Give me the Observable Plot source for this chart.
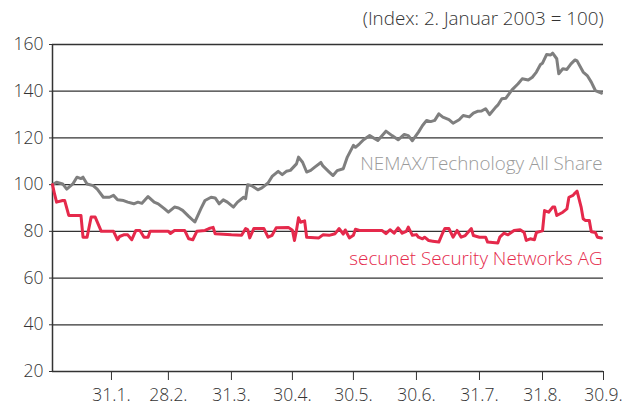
<!DOCTYPE html>
<html><head><meta charset="utf-8">
<script src="https://cdn.jsdelivr.net/npm/d3@7"></script>
<script src="https://cdn.jsdelivr.net/npm/@observablehq/plot@0.6"></script>
<style>
html,body{margin:0;padding:0;background:#fff;}
</style>
</head><body><div id="chart"></div>
<script>
const nemaxDates = ["2003-01-02","2003-01-04","2003-01-07","2003-01-09","2003-01-12","2003-01-14","2003-01-16","2003-01-17","2003-01-19","2003-01-22","2003-01-24","2003-01-27","2003-01-30",
"2003-02-01","2003-02-03","2003-02-06","2003-02-08","2003-02-11","2003-02-13","2003-02-15","2003-02-18","2003-02-21","2003-02-23","2003-02-26","2003-02-28",
"2003-03-03","2003-03-05","2003-03-07","2003-03-10","2003-03-13","2003-03-16","2003-03-18","2003-03-21","2003-03-23","2003-03-25","2003-03-27","2003-03-29",
"2003-04-01","2003-04-03","2003-04-06","2003-04-07","2003-04-08","2003-04-10","2003-04-13","2003-04-15","2003-04-18","2003-04-20","2003-04-23","2003-04-25","2003-04-27","2003-04-29",
"2003-05-02","2003-05-03","2003-05-05","2003-05-07","2003-05-09","2003-05-11","2003-05-14","2003-05-15","2003-05-18","2003-05-20","2003-05-22","2003-05-25","2003-05-27","2003-05-30","2003-05-31",
"2003-06-02","2003-06-04","2003-06-07","2003-06-11","2003-06-15","2003-06-18","2003-06-21","2003-06-24","2003-06-26","2003-06-28",
"2003-07-01","2003-07-03","2003-07-05","2003-07-07","2003-07-09","2003-07-11","2003-07-13","2003-07-16","2003-07-18","2003-07-21","2003-07-23","2003-07-26","2003-07-28","2003-07-30",
"2003-08-01","2003-08-03","2003-08-05","2003-08-08","2003-08-09","2003-08-11","2003-08-13","2003-08-14","2003-08-16","2003-08-19","2003-08-21","2003-08-24","2003-08-26","2003-08-28","2003-08-30","2003-08-31",
"2003-09-02","2003-09-04","2003-09-05","2003-09-07","2003-09-08","2003-09-10","2003-09-12","2003-09-14","2003-09-16","2003-09-17","2003-09-20","2003-09-22","2003-09-24","2003-09-26","2003-09-29"];
const nemaxValues = [100,101,100.3,98.1,100.3,103.2,102.6,103.2,100.3,99.6,98.1,94.6,94.6,
95.4,93.5,93.2,92.5,91.8,92.5,92,94.9,92.5,91.8,89.7,88.2,
90.4,90,89,86.4,84,89.7,93.2,94.6,94.3,91.8,93.5,92.5,
90.4,92.5,94.6,94,100,99.5,97.8,98.6,100.7,103.5,105.7,104.3,105.7,106.1,
108.9,111.8,109.6,105.4,106.1,107.5,109.5,108,105.5,103.9,106,106.8,111.8,116.8,116,
117.5,119.2,121,118.9,122.9,121,119.2,121.5,121,118.8,
122.5,125.3,127.5,127,127.5,130.3,128.9,127.8,126.3,127.8,129.6,129,130.6,131.4,
131.5,132.5,130,133.2,134,136.8,137,138.2,140.6,143.2,145.3,144.8,146,148.2,151.4,152,
155.7,155.5,156.3,153.9,147.5,149.6,149.3,151.7,153.4,153,148.2,146.7,143.9,140.3,139.2];

const secunetDates = ["2003-01-02","2003-01-03","2003-01-04","2003-01-07","2003-01-08","2003-01-10","2003-01-16","2003-01-17","2003-01-19","2003-01-21","2003-01-23","2003-01-26",
"2003-02-01","2003-02-03","2003-02-04","2003-02-06","2003-02-08","2003-02-10","2003-02-12","2003-02-14","2003-02-16","2003-02-18","2003-02-19","2003-02-28",
"2003-03-01","2003-03-03","2003-03-08","2003-03-10","2003-03-12","2003-03-14","2003-03-18","2003-03-20","2003-03-22","2003-03-23","2003-03-31",
"2003-04-05","2003-04-07","2003-04-08","2003-04-09","2003-04-11","2003-04-16","2003-04-18","2003-04-20","2003-04-22","2003-04-28","2003-04-30",
"2003-05-01","2003-05-02","2003-05-03","2003-05-04","2003-05-06","2003-05-07","2003-05-13","2003-05-15","2003-05-18","2003-05-21","2003-05-23","2003-05-25","2003-05-26","2003-05-28","2003-05-30","2003-05-31",
"2003-06-02","2003-06-13","2003-06-15","2003-06-17","2003-06-19","2003-06-21","2003-06-23","2003-06-25","2003-06-26","2003-06-28","2003-06-30",
"2003-07-01","2003-07-03","2003-07-04","2003-07-06","2003-07-08","2003-07-11","2003-07-13","2003-07-14","2003-07-16","2003-07-18","2003-07-20","2003-07-22","2003-07-24","2003-07-27","2003-07-28","2003-07-31",
"2003-08-03","2003-08-04","2003-08-09","2003-08-10","2003-08-12","2003-08-14","2003-08-17","2003-08-20","2003-08-22","2003-08-23","2003-08-25","2003-08-27","2003-08-28","2003-08-30","2003-08-31",
"2003-09-01","2003-09-03","2003-09-05","2003-09-06","2003-09-07","2003-09-10","2003-09-12","2003-09-13","2003-09-15","2003-09-16","2003-09-17","2003-09-19","2003-09-20","2003-09-21","2003-09-23","2003-09-24","2003-09-26","2003-09-27","2003-09-29"];
const secunetValues = [100,96,92.5,93.2,93.2,86.8,86.8,77.5,77.5,86.1,86.1,80,
80,76.4,77.8,78.5,78.5,76.4,80.4,80.4,77.5,77.5,80,80,
79.1,80.4,80.4,76.8,76.4,80,80.4,81.2,81.7,79,78.5,
78.3,81.2,80.8,77.2,81.2,81.2,77.5,78.3,81.5,81.7,80.5,
76.1,80.5,85.8,83.9,84.5,77.5,77.2,78.5,78.3,79,81.2,78.8,80.6,77.2,78.3,80.9,
80.4,80.4,79,80.7,79.2,81.5,79.2,80,81.8,78.3,78.6,
77.5,76.8,77.5,76.1,75.8,75.4,79.5,81.2,81.2,77.5,80.4,77.5,78.2,81.2,78.2,77.5,
77.5,75.4,75,77.5,79.2,78.5,80.4,80.7,79.5,76.1,76.8,76.4,79.5,80,80.2,
88.9,88.2,90.4,90.4,86.8,88.2,89.6,94.6,95.4,96.4,97.2,90.4,85.4,84.7,84.7,79.8,79.5,77.5,77.2];

const yTicks = [20, 40, 60, 80, 100, 120, 140, 160];
const xTickDates = ["2003-01-31","2003-02-28","2003-03-31","2003-04-30","2003-05-30","2003-06-30","2003-07-31","2003-08-31","2003-09-30"];
const xTickLabels = ["31.1.","28.2.","31.3.","30.4.","30.5.","30.6.","31.7.","31.8.","30.9."];
const xDomain = ["2003-01-02", "2003-09-30"];
const subtitle = "(Index: 2. Januar 2003 = 100)";
const seriesNames = ["NEMAX/Technology All Share", "secunet Security Networks AG"];
const seriesLabelValues = [109, 68];

const parse = d3.utcParse("%Y-%m-%d");
const nemax = nemaxDates.map((d, i) => ({date: parse(d), value: nemaxValues[i]}));
const secunet = secunetDates.map((d, i) => ({date: parse(d), value: secunetValues[i]}));
const tickDates = xTickDates.map(parse);
const labelData = seriesNames.map((n, i) => ({name: n, date: parse(xDomain[1]), value: seriesLabelValues[i]}));

const FONT = "'Open Sans', sans-serif";
const GRAY = "#7f7f7f";
const RED = "#e5294b";

const chart = Plot.plot({
  width: 624,
  height: 407,
  marginLeft: 52,
  marginRight: 21,
  marginTop: 44,
  marginBottom: 36,
  style: {fontFamily: FONT, fontSize: "17px", color: "#333", background: "#fff", fontWeight: 300},
  x: {type: "utc", domain: xDomain.map(parse)},
  y: {domain: [20, 160]},
  marks: [
    Plot.ruleY(yTicks.slice(1), {stroke: "#333", strokeWidth: 1.3}),
    Plot.axisY({ticks: yTicks, tickSize: 3, tickPadding: 6, stroke: "#333", fontSize: 17.5, fill: "#333", label: null}),
    Plot.axisX({ticks: tickDates, tickFormat: (d) => xTickLabels[tickDates.findIndex(t => +t === +d)], tickSize: 9, tickPadding: 8, stroke: "#333", fontSize: 17.5, fill: "#333", label: null}),
    Plot.ruleX([parse(xDomain[0])], {stroke: "#333", strokeWidth: 1.5}),
    Plot.ruleY([20], {stroke: "#333", strokeWidth: 1.5}),
    Plot.lineY(nemax, {x: "date", y: "value", stroke: GRAY, strokeWidth: 3, strokeLinejoin: "round"}),
    Plot.lineY(secunet, {x: "date", y: "value", stroke: RED, strokeWidth: 3, strokeLinejoin: "round"}),
    Plot.text(labelData, {x: "date", y: "value", text: "name", textAnchor: "end", fill: (d, i) => i === 0 ? "#9a9a9a" : RED, fontSize: 18.8, dx: -1}),
    Plot.text([subtitle], {frameAnchor: "top-right", lineAnchor: "middle", dy: -26, fontSize: 18.8, fill: "#333", textAnchor: "end"})
  ]
});
document.getElementById("chart").appendChild(chart);
</script>
</body></html>
